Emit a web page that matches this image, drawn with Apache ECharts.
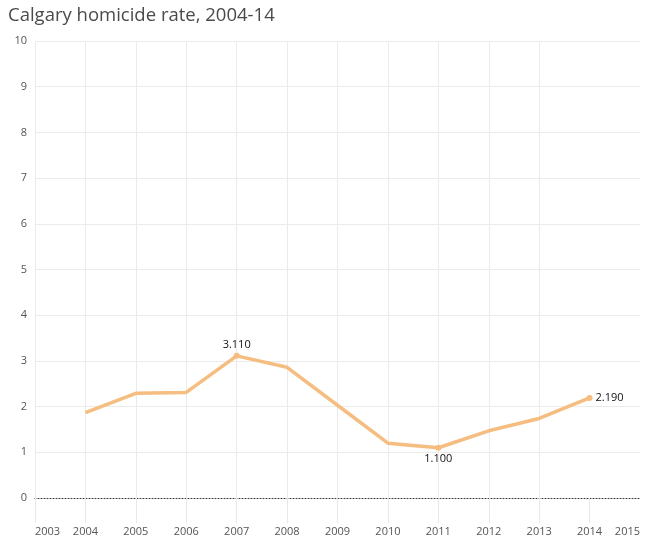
<!DOCTYPE html>
<html>
<head>
<meta charset="utf-8">
<script src="https://cdn.jsdelivr.net/npm/echarts@6/dist/echarts.min.js"></script>
<style>
  html, body { margin: 0; padding: 0; background: #fff; }
  #chart { width: 646px; height: 546px; }
</style>
</head>
<body>
<div id="chart"></div>
<script>
(function () {
  "use strict";
  const chart = echarts.init(document.getElementById("chart"));

  // 数值从图上读取（每 10 万人）
  const years = [2004, 2005, 2006, 2007, 2008, 2009, 2010, 2011, 2012, 2013, 2014];
  const rates = [1.87, 2.29, 2.31, 3.11, 2.86, 2.03, 1.20, 1.10, 1.47, 1.74, 2.19];
  const labelled = { 2007: "top", 2011: "bottom", 2014: "right" };
  const tickYears = [2003, 2004, 2005, 2006, 2007, 2008, 2009, 2010, 2011, 2012, 2013, 2014, 2015];

  const font = "'Open Sans', sans-serif";
  const lineColor = "#f5bd80";

  const data = years.map((y, i) => {
    const pos = labelled[y];
    const item = { value: [y, rates[i]] };
    if (pos) {
      item.symbolSize = 6;
      item.label = { show: true, position: pos, distance: pos === "right" ? 3 : 3,
        formatter: p => p.value[1].toFixed(3) };
    }
    return item;
  });

  chart.setOption({
    animation: false,
    textStyle: { fontFamily: font },
    title: {
      text: "Calgary homicide rate, 2004-14", left: 3, top: 1,
      textStyle: { fontFamily: font, fontSize: 18.5, fontWeight: "normal", color: "#4a4a4a" },
    },
    grid: { left: 35, right: 6, top: 41, bottom: 48, containLabel: false },
    xAxis: {
      type: "value", min: 2003, max: 2015, interval: 1,
      axisLine: { lineStyle: { color: "#333", type: [1, 2], width: 1 } },
      axisTick: { show: true, length: 25, customValues: tickYears.slice(0, -1),
        lineStyle: { color: "#e8e8e8" } },
      axisLabel: { margin: 28, fontSize: 11, color: "#555", fontFamily: font,
        customValues: tickYears, alignMinLabel: "left", alignMaxLabel: "right",
        formatter: v => String(v) },
      splitLine: { show: true, showMaxLine: false, lineStyle: { color: "#ebebeb" } },
    },
    yAxis: {
      type: "value", min: 0, max: 10, interval: 1,
      axisLine: { show: false },
      axisTick: { show: false },
      axisLabel: { margin: 8, fontSize: 11, color: "#555", fontFamily: font },
      splitLine: { show: true, showMinLine: false, lineStyle: { color: "#ebebeb" } },
    },
    series: [{
      type: "line",
      data: data,
      showSymbol: true,
      symbol: "circle",
      symbolSize: 0,
      lineStyle: { color: lineColor, width: 3.5 },
      itemStyle: { color: lineColor },
      label: { color: "#111", fontSize: 11, fontFamily: font },
      z: 3,
    }],
  });

  window.addEventListener("resize", () => chart.resize());
})();
</script>
</body>
</html>
